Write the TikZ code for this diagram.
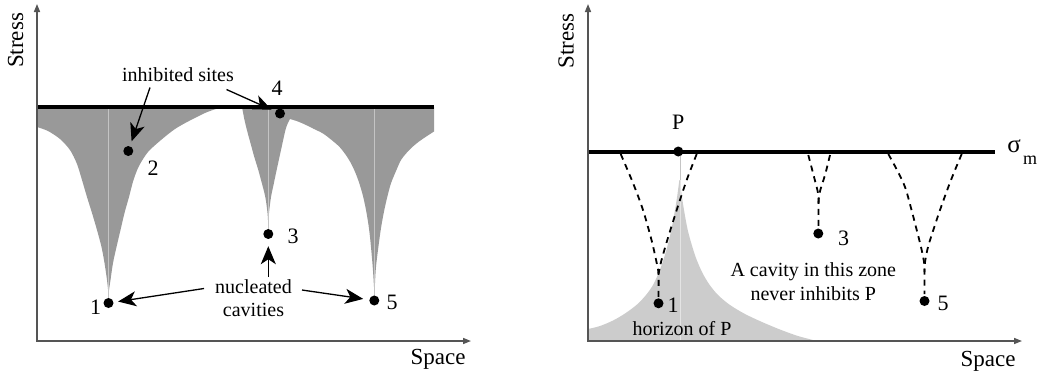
\documentclass[tikz,border=0pt]{standalone}
\usepackage{fontspec}
\setmainfont{Liberation Serif}
\usetikzlibrary{arrows.meta}
\definecolor{darkfill}{HTML}{999999}
\definecolor{lightfill}{HTML}{CCCCCC}
\definecolor{axisgray}{HTML}{555555}
\definecolor{ridgegray}{HTML}{C4C4C4}
\definecolor{ridgelight}{HTML}{E4E4E4}
\begin{document}
\begin{tikzpicture}[x=1pt,y=-1pt,
  axisline/.style={draw=axisgray,line width=1.5pt,{Triangle[length=8pt,width=6pt]}-{Triangle[length=8pt,width=6pt]}},
  thickline/.style={line width=4pt,black},
  ridge/.style={draw=ridgegray,line width=1pt},
  dot/.style={circle,fill=black,inner sep=0pt,minimum size=10pt},
  bigarrow/.style={line width=1.3pt,-{Stealth[length=18pt,width=15pt,inset=5pt]}},
  dashline/.style={line width=1.8pt,dash pattern=on 6pt off 5pt},
  lab/.style={font=\fontsize{20}{22}\selectfont,inner sep=0pt,text depth=0pt},
  num/.style={font=\fontsize{22}{24}\selectfont,inner sep=0pt,text depth=0pt},
  axlab/.style={font=\fontsize{23}{25}\selectfont,inner sep=0pt,text depth=0pt}]
\useasboundingbox (0,0) rectangle (1040,376);

% ---------------- left panel ----------------
\coordinate (c1) at (108.5,303);
\coordinate (c2) at (128.3,151);
\coordinate (c3) at (268.3,234);
\coordinate (c4) at (280,113.5);
\coordinate (c5) at (374.3,300.5);

\fill[darkfill] (37,107) -- plot[smooth] coordinates {(37,127) (48,131) (60,139) (70,150) (77,164) (82,180) (87,197) (92,213) (97,230) (101.5,247) (104.5,263) (107,280) (108.3,292)}
  -- plot[smooth] coordinates {(108.7,292) (110.5,280) (113,263) (116.5,247) (120.5,230) (124.5,213) (129,197) (133.5,180) (139,166) (148,152) (161,140) (175,129) (189,121) (205,113) (216,109) (224,107)} -- cycle;

\fill[darkfill] (242,107) -- plot[smooth] coordinates {(242,107) (244.5,120) (247.7,133) (251,145) (254.3,157) (258,169) (261,180) (265.3,197) (267.5,213) (268.2,224)}
  -- plot[smooth] coordinates {(268.4,224) (269,213) (271,197) (273.5,185) (276,173) (281,150) (286,128) (290,119)}
  -- plot[smooth] coordinates {(290,119) (298,121.5) (306,125) (314,129) (322.7,133.3) (331,139.5) (339.3,146.7) (345.5,154.5) (351,163.3) (355.5,173) (359.3,183.3) (363,196) (366,210) (368.5,225) (370.3,240) (372.7,266.7) (374,286.7) (374.2,290)}
  -- plot[smooth] coordinates {(374.4,290) (374.8,286.7) (376,266.7) (379.3,240) (381.5,225) (384.3,210) (387.5,196) (391,183.3) (396,171) (401,160) (406.5,153) (412.7,146.7) (419,141.5) (426,136.7) (434,131.5)}
  -- (434,107) -- cycle;

\coordinate (r1t) at (108.5,107);
\coordinate (r3t) at (268.3,107);
\coordinate (r5t) at (374.3,107);
\draw[ridge] (r1t) -- (c1);
\draw[ridge] (r3t) -- (c3);
\draw[ridge] (r5t) -- (c5);

\coordinate (L1a) at (37,107);
\coordinate (L1b) at (434,107);
\draw[thickline] (L1a) -- (L1b);

\coordinate (Y1) at (37,4);
\coordinate (O1) at (37,341);
\coordinate (X1) at (471,341);
\draw[axisline] (Y1) -- (O1) -- (X1);

\node[dot] (d1) at (c1) {};
\node[dot] (d2) at (c2) {};
\node[dot] (d3) at (c3) {};
\node[dot] (d4) at (c4) {};
\node[dot] (d5) at (c5) {};

\node[num] (n1) at (95.5,307) {1};
\node[num] (n2) at (153,168.5) {2};
\node[num] (n3) at (293,236.5) {3};
\node[num] (n4) at (277,88.5) {4};
\node[num] (n5) at (392,302) {5};

\node[lab] (tinh) at (178,75) {inhibited sites};
\node[lab] (tnuc) at (253.5,286.5) {nucleated};
\node[lab] (tcav) at (253.5,310) {cavities};

\coordinate (a2s) at (150,87.5);
\coordinate (a4s) at (226.5,89.5);
\coordinate (a1s) at (204,288.5);
\coordinate (a5s) at (302,290);
\coordinate (a3s) at (268.3,277);
\draw[bigarrow,shorten >=5pt] (a2s) -- (d2);
\draw[bigarrow,shorten >=4pt] (a4s) -- (d4);
\draw[bigarrow,shorten >=4.5pt] (a1s) -- (d1);
\draw[bigarrow,shorten >=6pt] (a5s) -- (d5);
\draw[bigarrow,shorten >=7pt] (a3s) -- (d3);

\node[axlab,rotate=90] (stressL) at (15.5,40.5) {Stress};
\node[axlab] (spaceL) at (438,357) {Space};

% ---------------- right panel ----------------
\coordinate (cP) at (678.3,151.5);
\coordinate (e1) at (658.5,303.3);
\coordinate (e3) at (818.3,233.5);
\coordinate (e5) at (924.5,301);

\fill[lightfill] (588,341) -- plot[smooth] coordinates {(588,329) (600,326) (613,320.5) (625,313.5) (637,304.5) (646,295) (653,285) (659,272) (664,258) (668,244) (671.5,229) (675,210) (677.5,194) (679.3,180)}
  -- plot[smooth] coordinates {(679.7,180) (681.5,194) (684,210) (687.5,229) (691.5,244) (696,258) (702,272) (709,284) (718,295) (730,305) (745,314) (762,322) (780,329.5) (798,336) (817,341)} -- cycle;

\coordinate (hzt) at (680,151.5);
\coordinate (hzm) at (680,180);
\coordinate (hzb) at (680,341);
\draw[ridge] (hzt) -- (hzm);
\draw[draw=ridgelight,line width=1pt] (hzm) -- (hzb);

\coordinate (L2a) at (588,151.5);
\coordinate (L2b) at (995,151.5);
\draw[thickline] (L2a) -- (L2b);

\coordinate (Y2) at (588,4);
\coordinate (O2) at (588,341);
\coordinate (X2) at (1022,341);
\draw[axisline] (Y2) -- (O2) -- (X2);

% dashed cusps
\draw[dashline] plot[smooth] coordinates {(620.7,154) (633,183) (643,210) (651.5,240) (656.5,262) (658.5,274) (658.5,297)};
\draw[dashline] plot[smooth] coordinates {(696.7,154) (686.7,180) (676.7,210) (667.3,240) (661,262) (658.5,274)};
\draw[dashline] plot[smooth] coordinates {(808.3,155) (813.5,175) (818,193) (818.5,205) (818.5,227)};
\draw[dashline] plot[smooth] coordinates {(830,155) (825,175) (819.5,193) (818.5,205)};
\draw[dashline] plot[smooth] coordinates {(888.3,154) (897,170) (905,187) (911,208) (916.7,230) (921,247) (924,262) (924.5,272) (924.5,294)};
\draw[dashline] plot[smooth] coordinates {(961.7,154) (955,170) (948.3,187) (940,210) (933.3,230) (928,247) (925,262) (924.5,272)};

\node[dot] (dP) at (cP) {};
\node[dot] (f1) at (e1) {};
\node[dot] (f3) at (e3) {};
\node[dot] (f5) at (e5) {};

\node[num] (lP) at (678.3,122.5) {P};
\node[num] (m1) at (673,305.5) {1};
\node[num] (m3) at (843.5,238) {3};
\node[num] (m5) at (943,303) {5};

\node[lab] (zone1) at (813.3,269.5) {A cavity in this zone};
\node[lab] (zone2) at (813.3,293.3) {never inhibits P};
\node[lab] (hor) at (682,328.3) {horizon of P};

\node[inner sep=0pt,font=\fontsize{25}{25}\selectfont] (sig) at (1014,146) {σ};
\node[inner sep=0pt,font=\fontsize{18}{18}\selectfont] (msub) at (1030,160.5) {m};

\node[axlab,rotate=90] (stressR) at (566,41) {Stress};
\node[axlab] (spaceR) at (988,359) {Space};
\end{tikzpicture}
\end{document}
